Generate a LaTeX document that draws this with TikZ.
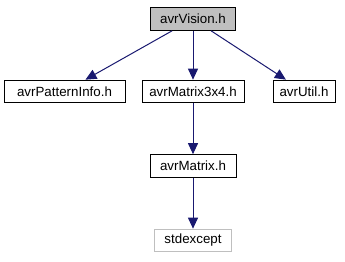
\documentclass[tikz,border=0pt]{standalone}
\usepackage{fontspec}
\setmainfont{Liberation Sans}
\usetikzlibrary{arrows.meta}

\definecolor{edgeblue}{HTML}{191970}

\begin{document}
\begin{tikzpicture}[
	x=0.75pt, y=-0.75pt,
	file/.style={
		rectangle,
		draw=black,
		fill=white,
		line width=0.75pt,
		minimum height=17pt,
		inner sep=0pt,
		align=center,
		font=\fontsize{10}{12}\selectfont
	},
	current/.style={file, fill=black!25},
	extern/.style={file, draw=black!25},
	edge/.style={-{Triangle[length=8.25pt,width=7.5pt]}, line width=0.75pt, edgeblue}
]
\useasboundingbox (0,0) rectangle (345,261);

\node[current, minimum width=63.75pt] (vision) at (193,19) {avrVision.h};

\node[file, minimum width=90.75pt] (pattern) at (64.5,91.5) {avrPatternInfo.h};
\node[file, minimum width=76.5pt] (mat34) at (193,91.5) {avrMatrix3x4.h};
\node[file, minimum width=46.5pt] (util) at (304,91.5) {avrUtil.h};

\node[file, minimum width=64.5pt] (matrix) at (193,166) {avrMatrix.h};

\node[extern, minimum width=57.75pt] (stdexc) at (193,240.5) {stdexcept};

\draw[edge] (vision) -- (pattern);
\draw[edge] (vision) -- (mat34);
\draw[edge] (vision) -- (util);
\draw[edge] (mat34) -- (matrix);
\draw[edge] (matrix) -- (stdexc);
\end{tikzpicture}
\end{document}
